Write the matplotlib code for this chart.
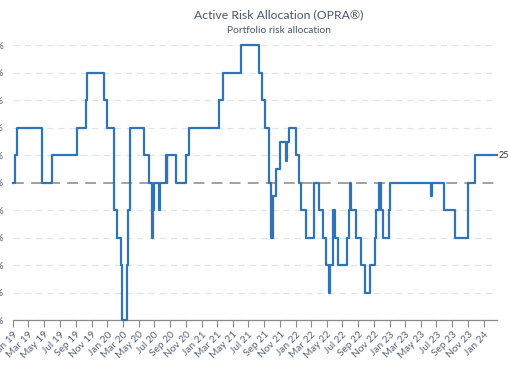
import numpy as np
import pandas as pd
import matplotlib
matplotlib.use("Agg")
import matplotlib.pyplot as plt
import matplotlib.dates as mdates

# risk allocation (%) at each change date
change_dates = [
    "2019-01-01", "2019-01-08", "2019-01-16", "2019-04-24", "2019-06-02",
    "2019-09-04", "2019-10-12", "2019-10-16", "2019-12-21", "2019-12-29", "2020-01-26",
    "2020-02-08", "2020-02-22", "2020-02-27", "2020-03-18", "2020-03-23", "2020-03-30",
    "2020-05-21", "2020-06-10", "2020-06-22", "2020-06-27", "2020-07-02", "2020-07-19",
    "2020-07-25", "2020-08-17", "2020-08-19", "2020-08-21", "2020-09-25", "2020-11-03",
    "2020-11-13", "2021-03-10", "2021-03-26", "2021-06-03", "2021-08-13", "2021-08-22",
    "2021-09-05", "2021-09-19", "2021-09-28", "2021-10-04", "2021-10-17", "2021-11-02",
    "2021-11-25", "2021-11-28", "2021-12-06", "2022-01-01", "2022-01-14", "2022-01-22",
    "2022-02-09", "2022-03-14", "2022-03-31", "2022-04-18", "2022-04-29", "2022-05-11",
    "2022-05-15", "2022-05-24", "2022-06-04", "2022-06-13", "2022-07-18", "2022-07-25",
    "2022-07-31", "2022-08-05", "2022-08-23", "2022-09-12", "2022-09-25", "2022-10-18",
    "2022-11-03", "2022-11-09", "2022-11-19", "2022-11-29", "2022-12-05", "2022-12-28",
    "2023-01-03", "2023-06-10", "2023-06-14", "2023-07-31", "2023-09-12", "2023-10-30",
    "2023-11-27", "2024-02-22",
]
allocation = [
    0, 25, 50, 0, 25,
    50, 75, 100, 75, 50, -25,
    -50, -75, -125, -75, -25, 50,
    25, 0, -50, -25, 0, -25,
    0, 25, 0, 25, 0, 25,
    50, 75, 100, 125, 100, 75,
    50, 0, -50, -12, 12, 37,
    20, 37, 50, 25, 0, -25,
    -50, 0, -25, -50, -75, -100,
    -75, -25, -50, -75, -50, -25,
    0, -25, -50, -75, -100, -75,
    -50, -25, 0, -25, -50, -25,
    0, -12, 0, -25, -50, 0,
    25, 25,
]
y_ticks = [-125, -100, -75, -50, -25, 0, 25, 50, 75, 100, 125]

dates = pd.to_datetime(change_dates)
text_col = "#56657c"

plt.rcParams["font.family"] = ["Lato", "DejaVu Sans"]
fig = plt.figure(figsize=(5.1, 3.82), dpi=100)
ax = fig.add_axes([0.026, 0.162, 0.949, 0.720])

# grid lines
for v in y_ticks:
    if v == 0:
        continue
    ax.axhline(v, color="#dfe3ea", lw=0.9, ls=(0, (5, 4)), zorder=0)
ax.axhline(0, color="#9a9a9a", lw=1.3, ls=(0, (6, 4)), zorder=1)

ax.plot(dates, allocation, drawstyle="steps-post", color="#2f74b8", lw=1.6,
        zorder=3, clip_on=False)
ax.text(dates[-1] + pd.Timedelta(days=5), allocation[-1], "25", fontsize=6.5,
        color="#333333", va="center", ha="left")

ax.set_xlim(pd.Timestamp("2019-01-01"), pd.Timestamp("2024-02-22"))
ax.set_ylim(-125, 125)
ax.set_yticks(y_ticks)
ax.set_yticklabels([f"{v}%" for v in y_ticks])
ax.tick_params(axis="y", length=0, pad=7, labelsize=7, labelcolor=text_col)

ax.xaxis.set_major_locator(mdates.MonthLocator(bymonth=[1, 3, 5, 7, 9, 11]))
ax.xaxis.set_major_formatter(mdates.DateFormatter("%b %y"))
ax.tick_params(axis="x", length=5, width=0.8, color="#8a8a8a", labelsize=7.3,
               labelcolor=text_col, pad=2)
for lab in ax.get_xticklabels():
    lab.set_rotation(45)
    lab.set_ha("right")
    lab.set_va("top")
    lab.set_rotation_mode("anchor")

for s in ["top", "right", "left"]:
    ax.spines[s].set_visible(False)
ax.spines["bottom"].set_color("#8a8a8a")
ax.spines["bottom"].set_linewidth(0.9)

fig.text(0.547, 0.961, "Active Risk Allocation (OPRA®)", ha="center", va="center",
         fontsize=8.8, color="#4a5870")
fig.text(0.547, 0.921, "Portfolio risk allocation", ha="center", va="center",
         fontsize=7.4, color="#4a5870")

fig.savefig("out.png", dpi=100)
